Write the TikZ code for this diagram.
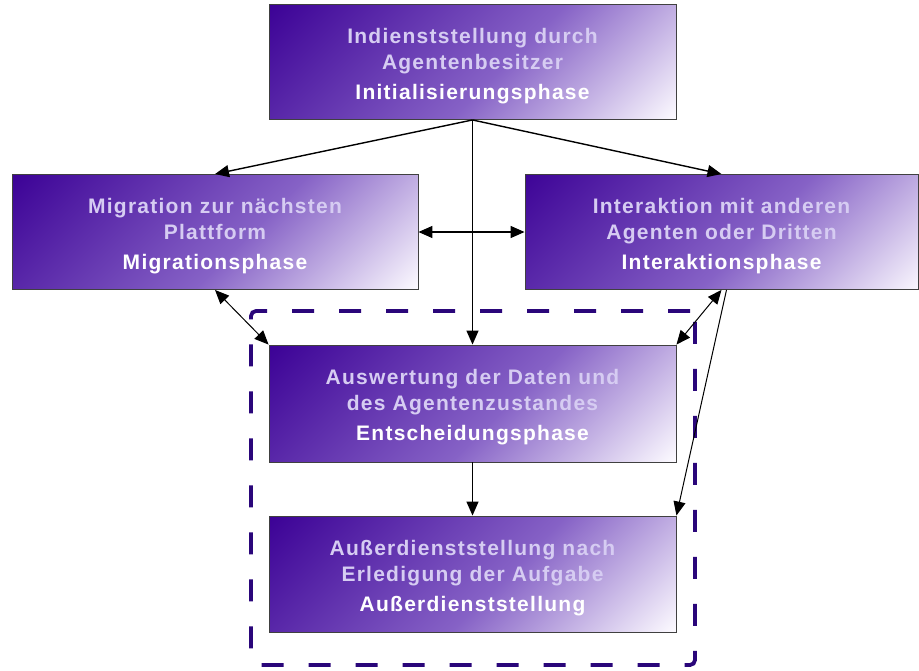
\documentclass[tikz,border=0pt]{standalone}
\usepackage{fontspec}
\setmainfont{Liberation Sans}
\newfontfamily\phasefont{Liberation Sans}[LetterSpace=6]
\usetikzlibrary{arrows.meta,calc}

\definecolor{gdark}{RGB}{60,2,150}
\definecolor{gmid}{RGB}{134,98,198}
\definecolor{glight}{RGB}{252,250,255}
\definecolor{soft}{RGB}{214,204,242}
\definecolor{framecol}{RGB}{42,6,122}

% diagonal fill of the phase boxes: light at 0bp, dark at 100bp
\pgfdeclareverticalshading{phasefill}{100bp}{%
  color(0bp)=(glight); color(28.6bp)=(glight); color(47bp)=(gmid);
  color(71.4bp)=(gdark); color(100bp)=(gdark)}

\begin{document}
\begin{tikzpicture}[x=1pt,y=-1pt,
  phase/.style={draw=black!75, line width=0.9pt, minimum width=407pt,
    minimum height=115pt, inner sep=0pt,
    path picture={\shade[shading=phasefill, shading angle=45]
      ($(path picture bounding box.center)+(-215,-215)$) rectangle ++(430,430);}},
  phasetext/.style={font=\phasefont\bfseries\fontsize{21}{26}\selectfont,
    align=center, text=white, inner sep=0pt, yshift=-4pt},
  conn/.style={line width=1.4pt, -{Triangle[length=14pt,width=12pt]}},
  thinconn/.style={line width=1pt, -{Triangle[length=14pt,width=12pt]}},
  groupframe/.style={draw=framecol, line width=3.8pt, rounded corners=5pt,
    dash pattern=on 22pt off 25pt, minimum width=444pt, minimum height=354pt,
    inner sep=0pt}
]
\useasboundingbox[fill=white] (0,0) rectangle (919,670);

% decision / decommissioning group
\node[groupframe] (group) at (473,488) {};

% phase boxes
\node[phase] (top) at (472.5,62) {};
\node[phasetext] at (top.center) {\textcolor{soft}{Indienststellung durch}\\
  \textcolor{soft}{Agentenbesitzer}\\[4pt]Initialisierungsphase};

\node[phase, minimum width=406pt] (left) at (215,232) {};
\node[phasetext] at (left.center) {\textcolor{soft}{Migration zur nächsten}\\
  \textcolor{soft}{Plattform}\\[4pt]Migrationsphase};

\node[phase, minimum width=393pt] (right) at (721.5,232) {};
\node[phasetext] at (right.center) {\textcolor{soft}{Interaktion mit anderen}\\
  \textcolor{soft}{Agenten oder Dritten}\\[4pt]Interaktionsphase};

\node[phase, minimum height=117pt] (mid) at (472.5,403.5) {};
\node[phasetext] at (mid.center) {\textcolor{soft}{Auswertung der Daten und}\\
  \textcolor{soft}{des Agentenzustandes}\\[4pt]Entscheidungsphase};

\node[phase, minimum height=116pt] (bot) at (472.5,574) {};
\node[phasetext] at (bot.center) {\textcolor{soft}{Außerdienststellung nach}\\
  \textcolor{soft}{Erledigung der Aufgabe}\\[4pt]Außerdienststellung};

% connectors
\draw[conn] (top.south) -- (left.north);
\draw[conn] (top.south) -- (right.north);
\draw[conn] (top.south) -- (mid.north);
\draw[conn, {Triangle[length=14pt,width=12pt]}-{Triangle[length=14pt,width=12pt]}]
  (left.east) -- (right.west);
\draw[thinconn, {Triangle[length=14pt,width=12pt]}-{Triangle[length=14pt,width=12pt]}]
  (left.south) -- (mid.north west);
\draw[thinconn, {Triangle[length=14pt,width=12pt]}-{Triangle[length=14pt,width=12pt]}]
  (right.south) -- (mid.north east);
\draw[thinconn] ($(right.south)+(5,0)$) -- (bot.north east);
\draw[conn] (mid.south) -- (bot.north);
\end{tikzpicture}
\end{document}
